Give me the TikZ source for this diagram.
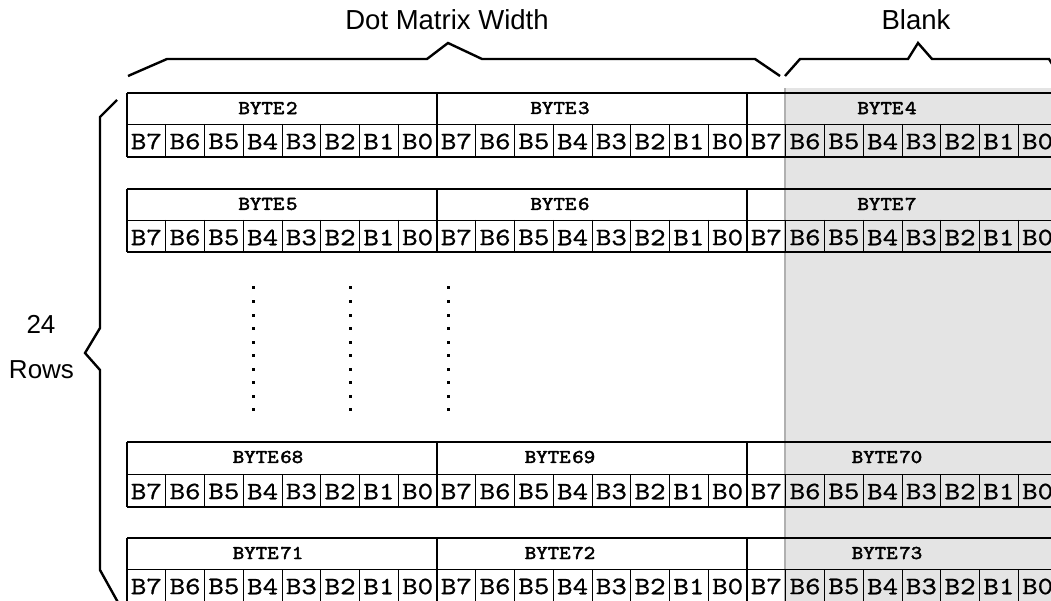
\documentclass[tikz,border=0pt]{standalone}
\usepackage{fontspec}
\usepackage{graphicx}
\setmainfont{Liberation Sans}
\newfontfamily\bytefont[FakeBold=2.2]{lmmono10-regular.otf}
\newfontfamily\bitsfont[FakeBold=0.7]{lmmono10-regular.otf}
\definecolor{blankfill}{HTML}{E4E4E4}
\definecolor{blankedge}{HTML}{B0B0B0}
\newcommand{\bitstr}[1]{\scalebox{1.18}[1]{\bitsfont\fontsize{25}{27}\selectfont #1}}
\newcommand{\bytestr}[1]{\scalebox{1.12}[1]{\bytefont\fontsize{19.5}{21}\selectfont #1}}
\tikzset{
  thickln/.style={line width=2.4pt},
  thinln/.style={line width=0.9pt},
  braceln/.style={line width=2.4pt, line join=miter},
  heading/.style={inner sep=0pt, font=\fontsize{27.5}{30}\selectfont},
  sidelbl/.style={inner sep=0pt, font=\fontsize{26}{28}\selectfont},
  bytelbl/.style={inner sep=0pt},
  bitlbl/.style={inner sep=0pt},
  dotmark/.style={fill=black}
}
\begin{document}
\begin{tikzpicture}[x=1pt,y=-1pt]
\useasboundingbox (0,0) rectangle (1051,601);
\clip (0,0) rectangle (1051,601);
% blank area
\fill[blankfill] (785,88) rectangle (1060,610);
\draw[blankedge, line width=2pt] (785,88) -- (785,610);
% headings
\node[heading] (dmw) at (447,20) {Dot Matrix Width};
\node[heading] (blank) at (916,20) {Blank};
\node[sidelbl] (n24) at (41,324) {24};
\node[sidelbl] (rows) at (41.5,370) {Rows};
% braces
\draw[braceln] (128,76) -- (167,59) -- (427,59) -- (448,43) -- (482,59) -- (755,59) -- (780,76);
\draw[braceln] (785,76) -- (800,59) -- (908,59) -- (918,43) -- (932,59) -- (1049,59) -- (1062,80);
\draw[braceln] (117,100) -- (100,117) -- (100,328) -- (85,353) -- (100,370) -- (100,570) -- (120,606);
% rows
\foreach \r/\top/\dv/\bot/\la/\lb/\lc in {1/93/124/157/2/3/4, 2/189/220/252/5/6/7, 3/442/474/507/68/69/70, 4/538/569/604/71/72/73} {
  \draw[thinln] (127,\dv) -- (1060,\dv);
  \foreach \i in {1,...,23} {
    \pgfmathsetmacro\xx{127+38.75*\i}
    \draw[thinln] (\xx,\dv) -- (\xx,\bot);
  }
  \draw[thickln] (127,\top) -- (1060,\top);
  \draw[thickln] (127,\bot) -- (1060,\bot);
  \draw[thickln] (127,\top) -- (127,\bot);
  \draw[thickln] (437,\top) -- (437,\bot);
  \draw[thickln] (747,\top) -- (747,\bot);
  \node[bytelbl] (byte-\r-a) at (268,{\top+15}) {\bytestr{BYTE\kern1.5pt\la}};
  \node[bytelbl] (byte-\r-b) at (560,{\top+15}) {\bytestr{BYTE\kern1.5pt\lb}};
  \node[bytelbl] (byte-\r-c) at (887,{\top+15}) {\bytestr{BYTE\kern1.5pt\lc}};
  \foreach \i in {0,...,23} {
    \pgfmathsetmacro\cx{127+38.75*\i+19.4}
    \pgfmathtruncatemacro\bb{7-mod(\i,8)}
    \node[bitlbl] (bit-\r-\i) at (\cx,{\dv+17.5}) {\bitstr{B\bb}};
  }
}
% vertical ellipsis dots
\foreach \dx in {253,350,448} {
  \foreach \k in {0,...,9} {
    \fill[dotmark] ({\dx-1.5},{288+13.5*\k-1.5}) rectangle ({\dx+1.5},{288+13.5*\k+1.5});
  }
}
\end{tikzpicture}
\end{document}
